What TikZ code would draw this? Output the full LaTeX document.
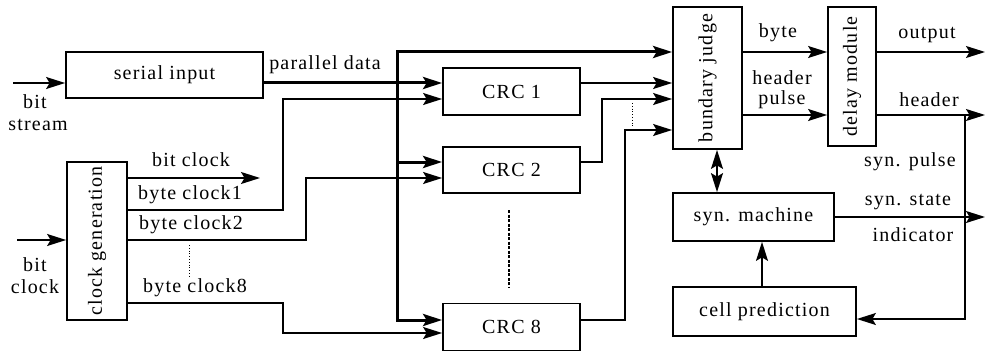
\documentclass[tikz,border=0pt]{standalone}
\usepackage{fontspec}
\setmainfont{Liberation Serif}[LetterSpace=6]
\usetikzlibrary{arrows.meta}
\begin{document}
\begin{tikzpicture}[x=1pt,y=-1pt,
  font=\fontsize{20}{22}\selectfont,
  box/.style={draw,line width=1.8pt,inner sep=0pt},
  ln/.style={line width=1.4pt},
  tip/.tip={Stealth[length=19pt,width=12pt,inset=3.5pt]},
  arr/.style={ln,-tip},
  darr/.style={ln,tip-tip},
  bus/.style={line width=3pt},
  lbl/.style={inner sep=0pt}]
\useasboundingbox (0,0) rectangle (986,353);
% boxes
\node[box,minimum width=197pt,minimum height=46pt] (serial) at (164.5,75) {serial input};
\node[box,minimum width=60pt,minimum height=158pt] (cg) at (97,241) {};
\node[lbl,rotate=90] at (cg) {clock generation};
\node[box,minimum width=137pt,minimum height=47pt] (crc1) at (511.5,91.5) {CRC 1};
\node[box,minimum width=137pt,minimum height=46pt] (crc2) at (511.5,170) {CRC 2};
\node[box,minimum width=137pt,minimum height=47pt] (crc8) at (511.5,327) {CRC 8};
\node[box,minimum width=69pt,minimum height=142pt] (bj) at (707.5,78) {};
\node[lbl,rotate=90] at (bj) {bundary judge};
\node[box,minimum width=48pt,minimum height=139pt] (dm) at (852,76.5) {};
\node[lbl,rotate=90] at (dm) {delay module};
\node[box,minimum width=161pt,minimum height=48pt] (sm) at (753.5,217) {syn. machine};
\node[box,minimum width=183pt,minimum height=49pt] (cp) at (764.5,311.5) {cell prediction};
% coordinates
\coordinate (bs) at (13,83);
\coordinate (bc) at (17,240);
\coordinate (pd) at (263,83);
\coordinate (bcl) at (260,178);
\coordinate (k1) at (283,99);
\coordinate (k2) at (306,178);
\coordinate (k8) at (283,333);
\coordinate (busb) at (397,320);
\coordinate (bust) at (397,52);
\coordinate (b2) at (397,162);
\coordinate (o2) at (602,99);
\coordinate (o8) at (625,130);
\coordinate (oo) at (985,52);
\coordinate (oh) at (985,115);
\coordinate (sp) at (965,115);
\coordinate (ss) at (985,217);
% inputs
\draw[arr] (bs) -- (bs -| serial.west);
\draw[arr] (bc) -- (bc -| cg.west);
% parallel data and bus
\draw[bus,-tip] (pd -| serial.east) -- (pd -| crc1.west);
\draw[bus,tip-tip] (busb -| crc8.west) -- (busb) -- (bust) -- (bust -| bj.west);
\draw[bus,-tip] (b2) -- (b2 -| crc2.west);
% clocks
\draw[arr] (bcl -| cg.east) -- (bcl);
\draw[arr] (cg.east |- 0,210) -| (k1) -- (k1 -| crc1.west);
\draw[arr] (cg.east |- 0,240) -| (k2) -- (k2 -| crc2.west);
\draw[arr] (cg.east |- 0,303) -| (k8) -- (k8 -| crc8.west);
\draw[line width=0.8pt,dotted] (189,245) -- (189,278);
\draw[line width=1.6pt,dash pattern=on 3pt off 1.5pt] (509,210) -- (509,287);
% CRC outputs
\draw[arr] (crc1.east |- pd) -- (pd -| bj.west);
\draw[arr] (crc2.east |- 0,162) -| (o2) -- (o2 -| bj.west);
\draw[arr] (crc8.east |- busb) -| (o8) -- (o8 -| bj.west);
\draw[line width=0.8pt,dotted] (632,103) -- (632,127);
% right part
\draw[arr] (bj.east |- oo) -- (oo -| dm.west);
\draw[arr] (bj.east |- oh) -- (oh -| dm.west);
\draw[arr] (dm.east |- oo) -- (oo);
\draw[arr] (dm.east |- oh) -- (oh);
\draw[arr] (sp) -- (965,319) -- (cp.east |- 0,319);
\draw[arr] (sm.east) -- (ss);
\draw[darr] (bj.south -| 717,0) -- (sm.north -| 717,0);
\draw[arr] (cp.north -| 762,0) -- (sm.south -| 762,0);
% labels
\node[lbl] at (35,102) {bit};
\node[lbl] at (38,125) {stream};
\node[lbl] at (35,265) {bit};
\node[lbl] at (35,287) {clock};
\node[lbl] at (325,65) {parallel data};
\node[lbl] at (191,160) {bit clock};
\node[lbl] at (190,195) {byte clock1};
\node[lbl] at (191,225) {byte clock2};
\node[lbl] at (195,288) {byte clock8};
\node[lbl] at (778,33) {byte};
\node[lbl] at (782,78) {header};
\node[lbl] at (782,100) {pulse};
\node[lbl] at (927,35) {output};
\node[lbl] at (929,100) {header};
\node[lbl] at (910,162) {syn. pulse};
\node[lbl] at (908,202) {syn. state};
\node[lbl] at (913,235) {indicator};
\end{tikzpicture}
\end{document}
